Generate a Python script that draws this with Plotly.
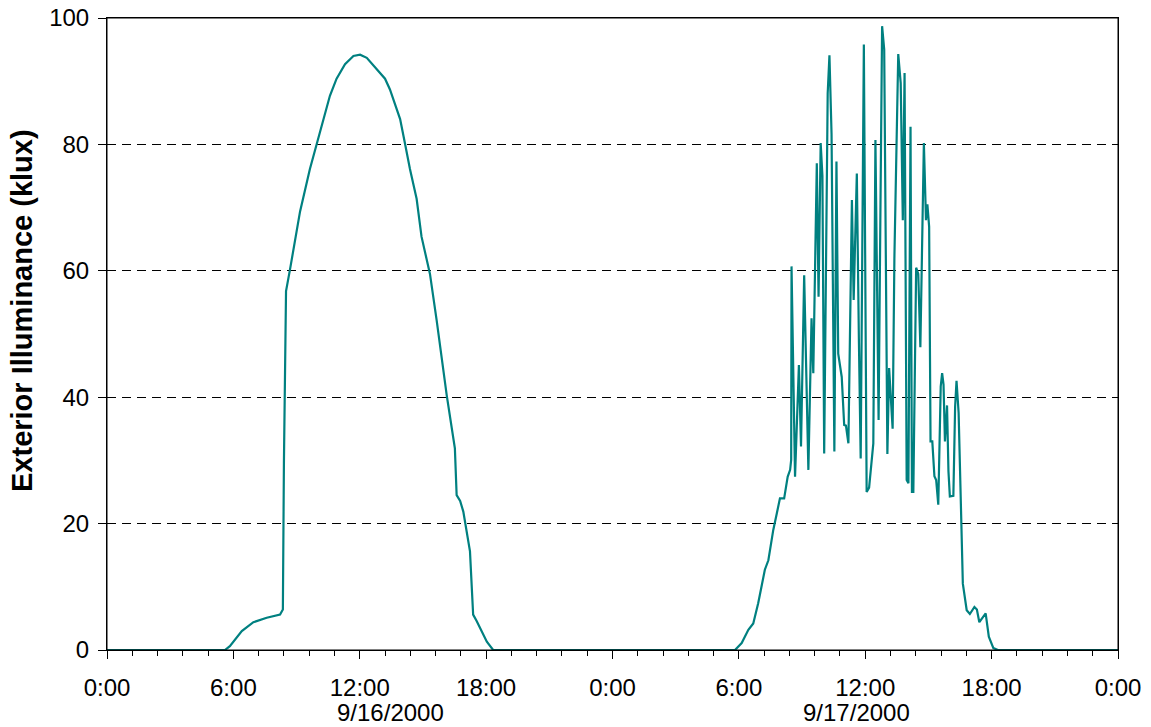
import plotly.graph_objects as go

# ---------------- data ----------------
day1_date = "2000-09-16"
day2_date = "2000-09-17"
end_time = "2000-09-18 00:00"
end_klux = 0.0

day1_times = ["00:00", "05:36", "05:50", "06:24", "06:57", "07:35", "08:13", "08:21",
              "08:24", "08:30", "08:41", "09:10", "09:38", "10:07", "10:35", "10:54",
              "11:18", "11:42", "12:01", "12:20", "12:48", "13:12", "13:26", "13:45",
              "13:55", "14:09", "14:23", "14:42", "14:56", "15:20", "15:39", "16:08",
              "16:31", "16:36", "16:46", "16:55", "17:14", "17:23", "17:33", "18:02",
              "18:20"]
day1_klux = [0.0, 0.0, 0.6, 3.0, 4.4, 5.1, 5.6, 6.4,
             29.6, 56.8, 60.1, 69.4, 76.1, 82.1, 87.7, 90.4,
             92.7, 94.0, 94.2, 93.7, 92.0, 90.4, 88.7, 85.4,
             84.0, 80.1, 76.1, 71.4, 65.4, 59.5, 52.2, 40.2,
             31.9, 24.5, 23.6, 21.9, 15.6, 5.6, 4.6, 1.3,
             0.0]

day2_times = ["05:49", "06:08", "06:27", "06:41", "06:55", "07:14", "07:24", "07:38",
              "07:48", "07:57", "08:09", "08:19", "08:26", "08:29", "08:30", "08:40",
              "08:51", "08:57", "09:06", "09:18", "09:27", "09:32", "09:42", "09:47",
              "09:53", "09:58", "10:03", "10:08", "10:13", "10:18", "10:24", "10:32",
              "10:38", "10:43", "10:53", "11:00", "11:05", "11:12", "11:22", "11:27",
              "11:36", "11:42", "11:47", "11:56", "12:04", "12:11", "12:15", "12:23",
              "12:29", "12:34", "12:38", "12:43", "12:48", "12:54", "13:03", "13:08",
              "13:18", "13:23", "13:34", "13:41", "13:47", "13:52", "13:58", "14:03",
              "14:09", "14:13", "14:17", "14:25", "14:31", "14:37", "14:47", "14:53",
              "14:57", "15:02", "15:06", "15:11", "15:17", "15:22", "15:28", "15:35",
              "15:39", "15:43", "15:47", "15:53", "15:57", "16:01", "16:11", "16:16",
              "16:20", "16:26", "16:33", "16:38", "16:49", "16:58", "17:11", "17:18",
              "17:25", "17:33", "17:43", "17:52", "18:05", "18:18"]
day2_klux = [0.0, 1.1, 3.2, 4.2, 7.4, 12.7, 14.2, 19.0,
             21.6, 24.0, 24.0, 27.4, 28.5, 30.1, 60.7, 27.4,
             45.1, 32.2, 59.3, 28.5, 52.5, 43.8, 77.0, 55.9,
             80.2, 75.0, 31.1, 55.3, 88.1, 94.1, 81.6, 31.4,
             77.3, 46.9, 43.2, 35.6, 35.5, 32.7, 71.2, 55.4,
             75.4, 48.6, 30.3, 95.8, 25.0, 25.7, 28.5, 32.7,
             80.7, 59.1, 36.4, 68.0, 98.7, 95.0, 31.0, 44.6,
             35.0, 62.0, 94.3, 89.7, 68.0, 91.3, 26.9, 26.4,
             82.8, 25.0, 25.0, 60.5, 59.5, 47.9, 80.2, 68.0,
             70.5, 67.0, 33.0, 33.0, 27.5, 26.9, 23.0, 41.7,
             43.8, 42.0, 33.0, 38.7, 28.3, 24.3, 24.4, 38.5,
             42.6, 37.5, 21.0, 10.5, 6.3, 5.7, 6.8, 6.4,
             4.4, 5.0, 5.8, 2.1, 0.3, 0.0]

major_tick_vals = ["2000-09-16 00:00", "2000-09-16 06:00", "2000-09-16 12:00",
                   "2000-09-16 18:00", "2000-09-17 00:00", "2000-09-17 06:00",
                   "2000-09-17 12:00", "2000-09-17 18:00", "2000-09-18 00:00"]
major_tick_text = ["0:00", "6:00", "12:00", "18:00", "0:00", "6:00", "12:00", "18:00", "0:00"]
date_labels = ["9/16/2000", "9/17/2000"]
date_label_anchors = ["2000-09-16 12:00", "2000-09-17 12:00"]
date_label_shift = [31, -9]

y_title = "Exterior Illuminance (klux)"

# ---------------- figure ----------------
x_all = ([f"{day1_date} {t}" for t in day1_times]
         + [f"{day2_date} {t}" for t in day2_times]
         + [end_time])
y_all = day1_klux + day2_klux + [end_klux]

FONT = "Liberation Sans, Arial, sans-serif"
fig = go.Figure()
fig.add_trace(go.Scatter(x=x_all, y=y_all, mode="lines",
                         line=dict(color="#008080", width=2.2),
                         showlegend=False, hoverinfo="x+y"))

fig.update_layout(
    width=1151, height=727,
    margin=dict(l=107, r=33, t=18, b=77, autoexpand=False),
    paper_bgcolor="white", plot_bgcolor="white",
    font=dict(family=FONT, size=24, color="black"),
    showlegend=False,
)

fig.update_xaxes(
    type="date",
    range=["2000-09-16 00:00", "2000-09-18 00:00"],
    tickmode="array", tickvals=major_tick_vals, ticktext=major_tick_text,
    ticks="outside", ticklen=8, tickwidth=1, tickcolor="black",
    tickfont=dict(family=FONT, size=24, color="black"),
    ticklabelstandoff=8, ticklabeloverflow="allow",
    showline=True, linecolor="black", linewidth=1, mirror=True,
    showgrid=False, zeroline=False, automargin=False,
    minor=dict(ticks="outside", ticklen=5, tickwidth=1, tickcolor="black",
               tickmode="linear", tick0="2000-09-16 00:00", dtick=4320000,
               showgrid=False),
)

fig.update_yaxes(
    range=[0, 100], tickmode="linear", tick0=0, dtick=20,
    ticks="outside", ticklen=8, tickwidth=1, tickcolor="black",
    tickfont=dict(family=FONT, size=24, color="black"),
    ticklabelstandoff=4, ticklabeloverflow="allow",
    showline=True, linecolor="black", linewidth=1, mirror=True,
    showgrid=True, gridcolor="black", gridwidth=1, griddash="9px,6px",
    zeroline=False, automargin=False,
)

# plot-area frame (paper coordinates)
fig.add_shape(type="rect", xref="paper", yref="paper", x0=0, y0=0, x1=1, y1=1,
              line=dict(color="black", width=1), fillcolor="rgba(0,0,0,0)",
              layer="above")

for lbl, anc, sh in zip(date_labels, date_label_anchors, date_label_shift):
    fig.add_annotation(x=anc, y=0, xref="x", yref="paper",
                       text=lbl, showarrow=False, xanchor="center", yanchor="middle",
                       xshift=sh, yshift=-62,
                       font=dict(family=FONT, size=24, color="black"))

fig.add_annotation(x=0, y=0.5, xref="paper", yref="paper",
                   text=f"<b>{y_title}</b>", textangle=-90, showarrow=False,
                   xanchor="center", yanchor="middle", xshift=-85, yshift=23,
                   font=dict(family=FONT, size=29, color="black"))

fig.write_html("out.html", config={"displayModeBar": False},
               post_script="document.body.style.margin='0px';")
